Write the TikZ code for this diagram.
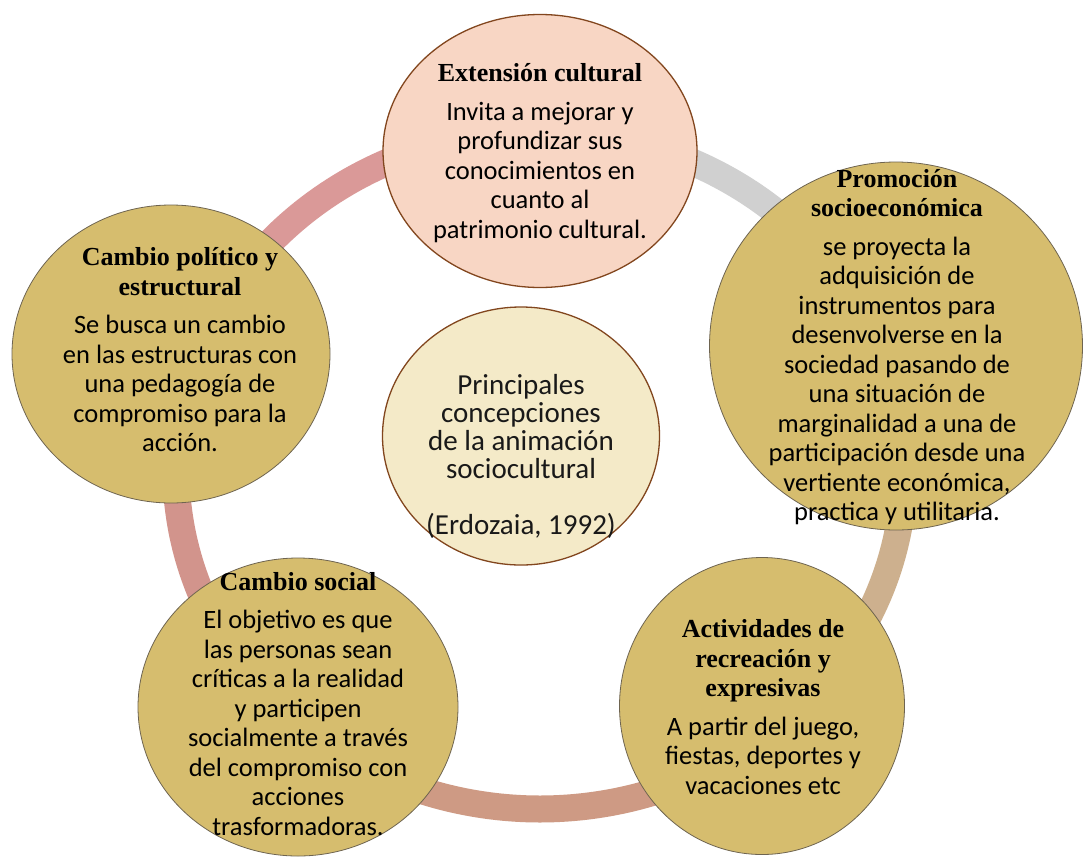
\documentclass[tikz,border=0pt]{standalone}
\usepackage{fontspec}
\usetikzlibrary{shapes.geometric}
\newfontfamily\carlitofam{Carlito}
\newfontfamily\serifboldfam{Liberation Serif}
\newcommand\mybody{\carlitofam\mdseries\fontsize{26.5}{29.5}\selectfont}
\newcommand\mytitle{\serifboldfam\bfseries\fontsize{26}{29}\selectfont}
\newcommand\mycenter{\carlitofam\fontsize{29}{28}\selectfont}
\definecolor{goldfill}{RGB}{214,189,110}
\definecolor{salmonfill}{RGB}{248,214,196}
\definecolor{creamfill}{RGB}{244,234,200}
\definecolor{goldline}{RGB}{110,100,80}
\definecolor{brownline}{RGB}{130,70,30}
\definecolor{ringA}{RGB}{208,208,208}
\definecolor{ringB}{RGB}{205,176,142}
\definecolor{ringC}{RGB}{206,154,132}
\definecolor{ringD}{RGB}{210,148,140}
\definecolor{ringE}{RGB}{218,153,152}
\tikzset{
  ringseg/.style={line width=27pt, samples=80, smooth},
  bubble/.style={ellipse, draw=goldline, line width=0.8pt, fill=goldfill, inner sep=0pt, outer sep=0pt},
  hub/.style={ellipse, draw=brownline, line width=1.3pt, inner sep=0pt, outer sep=0pt},
  bubbletext/.style={align=center, font=\mybody, inner sep=0pt, text=black},
  hubtext/.style={align=center, font=\mycenter, inner sep=0pt, text=black!90},
}
\begin{document}
\begin{tikzpicture}[x=1pt, y=-1pt]
\useasboundingbox[fill=white] (0,0) rectangle (1083,865);
% ring segments
\draw[ringseg, ringA] plot[domain=21:90] ({540+364*cos(\x)}, {470-339*sin(\x)});
\draw[ringseg, ringB] plot[domain=-49:21] ({540+364*cos(\x)}, {470-339*sin(\x)});
\draw[ringseg, ringC] plot[domain=-134:-49] ({540+364*cos(\x)}, {470-339*sin(\x)});
\draw[ringseg, ringD] plot[domain=-200:-134] ({540+364*cos(\x)}, {470-339*sin(\x)});
\draw[ringseg, ringE] plot[domain=90:160] ({540+364*cos(\x)}, {470-339*sin(\x)});
% centre
\node[hub, fill=creamfill, minimum width=277pt, minimum height=258pt] (hub) at (521,436) {};
\node[hubtext] (hubt) at (521,456) {Principales\\concepciones\\de la animación\\sociocultural\\[28pt](Erdozaia, 1992)};
% top
\node[hub, fill=salmonfill, minimum width=314pt, minimum height=273pt] (ext) at (540,151) {};
\node[bubbletext] (extt) at (540,153)
 {\mytitle Extensión cultural\\[9pt]\mybody Invita a mejorar y\\profundizar sus\\conocimientos en\\cuanto al\\patrimonio cultural.};
% right
\node[bubble, minimum width=373pt, minimum height=368pt] (prom) at (896,346) {};
\node[bubbletext] (promt) at (897,347)
 {\mytitle Promoción\\\mytitle socioeconómica\\[9pt]\mybody se proyecta la\\adquisición de\\instrumentos para\\desenvolverse en la\\sociedad pasando de\\una situación de\\marginalidad a una de\\participación desde una\\vertiente económica,\\practica y utilitaria.};
% bottom right
\node[bubble, minimum width=285pt, minimum height=297pt] (act) at (762,706) {};
\node[bubbletext] (actt) at (763,707)
 {\mytitle Actividades de\\\mytitle recreación y\\\mytitle expresivas\\[9pt]\mybody A partir del juego,\\fiestas, deportes y\\vacaciones etc};
% bottom left
\node[bubble, minimum width=320pt, minimum height=298pt] (soc) at (298,707) {};
\node[bubbletext] (soct) at (298,704)
 {\mytitle Cambio social\\[9pt]\mybody El objetivo es que\\las personas sean\\críticas a la realidad\\y participen\\socialmente a través\\del compromiso con\\acciones\\trasformadoras.};
% left
\node[bubble, minimum width=318pt, minimum height=298pt] (pol) at (171,354) {};
\node[bubbletext] (polt) at (180,350)
 {\mytitle Cambio político y\\\mytitle estructural\\[9pt]\mybody Se busca un cambio\\en las estructuras con\\una pedagogía de\\compromiso para la\\acción.};
\end{tikzpicture}
\end{document}
